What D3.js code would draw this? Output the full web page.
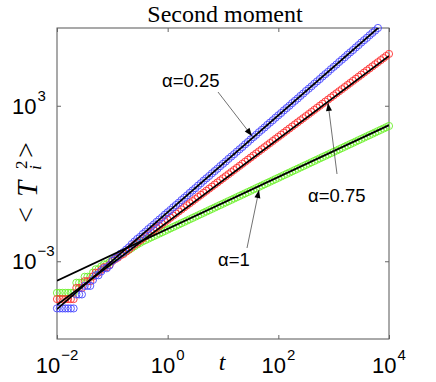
<!DOCTYPE html>
<html><head><meta charset="utf-8">
<script src="https://cdn.jsdelivr.net/npm/d3@7"></script>
<style>
html,body{margin:0;padding:0;background:#fff;}
svg{display:block;}
</style></head>
<body>
<script>
// ---- data (log10 values) ----
const log10T = [-2,-1.95,-1.9,-1.85,-1.8,-1.75,-1.7,-1.65,-1.6,-1.55,-1.5,-1.45,-1.4,-1.35,-1.3,-1.25,-1.2,-1.15,-1.1,-1.05,
-1,-0.95,-0.9,-0.85,-0.8,-0.75,-0.7,-0.65,-0.6,-0.55,-0.5,-0.45,-0.4,-0.35,-0.3,-0.25,-0.2,-0.15,-0.1,-0.05,
0,0.05,0.1,0.15,0.2,0.25,0.3,0.35,0.4,0.45,0.5,0.55,0.6,0.65,0.7,0.75,0.8,0.85,0.9,0.95,
1,1.05,1.1,1.15,1.2,1.25,1.3,1.35,1.4,1.45,1.5,1.55,1.6,1.65,1.7,1.75,1.8,1.85,1.9,1.95,
2,2.05,2.1,2.15,2.2,2.25,2.3,2.35,2.4,2.45,2.5,2.55,2.6,2.65,2.7,2.75,2.8,2.85,2.9,2.95,
3,3.05,3.1,3.15,3.2,3.25,3.3,3.35,3.4,3.45,3.5,3.55,3.6,3.65,3.7,3.75,3.8,3.85,3.9,3.95,4];

const log10Alpha025 = [-4.82,-4.82,-4.82,-4.82,-4.82,-4.82,-4.82,-4.28,-4.28,-4.28,-3.95,-3.95,-3.95,-3.72,-3.54,-3.54,-3.39,-3.27,-3.27,-3.16,
-2.98,-2.90,-2.83,-2.71,-2.65,-2.55,-2.46,-2.34,-2.24,-2.14,-2.06,
-1.95,-1.86,-1.76,-1.67,-1.58,-1.48,-1.39,-1.30,-1.20,-1.11,-1.02,-0.92,-0.83,-0.74,-0.64,-0.55,-0.46,-0.36,-0.27,-0.18,-0.08,
0.01,0.11,0.20,0.29,0.39,0.48,0.57,0.67,0.76,0.85,0.95,1.04,1.13,1.23,1.32,1.41,1.51,1.60,1.70,1.79,1.88,1.98,2.07,2.16,2.26,
2.35,2.44,2.54,2.63,2.72,2.82,2.91,3.00,3.10,3.19,3.28,3.38,3.47,3.57,3.66,3.75,3.85,3.94,4.03,4.13,4.22,4.31,4.41,4.50,4.59,
4.69,4.78,4.87,4.97,5.06,5.15,5.25,5.34,5.44,5.53,5.62,5.72,5.81,5.90,6.00];

const log10Alpha075 = [-4.46,-4.46,-4.46,-4.46,-4.46,-4.46,-4.46,-4.03,-4.03,-4.03,-3.77,-3.77,-3.77,-3.59,-3.44,-3.44,-3.33,-3.23,-3.23,-3.14,
-2.99,-2.92,-2.86,-2.77,-2.72,-2.63,-2.55,-2.45,-2.36,-2.28,-2.20,
-2.12,-2.04,-1.96,-1.88,-1.80,-1.72,-1.64,-1.56,-1.48,-1.40,-1.32,-1.24,-1.16,-1.08,-1.00,-0.92,-0.84,-0.76,-0.68,-0.60,
-0.52,-0.44,-0.36,-0.28,-0.20,-0.12,-0.04,0.04,0.12,0.20,0.28,0.36,0.44,0.52,0.60,0.68,0.76,0.84,0.92,1.00,
1.08,1.16,1.24,1.32,1.40,1.48,1.56,1.64,1.72,1.80,1.88,1.96,2.04,2.12,2.20,2.28,2.36,2.44,2.52,2.60,
2.68,2.76,2.84,2.92,3.00,3.08,3.16,3.24,3.32,3.40,3.48,3.56,3.64,3.72,3.80,3.88,3.96,4.04,4.12,4.20,
4.28,4.36,4.44,4.52,4.60,4.68,4.76,4.84,4.92,5.00];

const log10Alpha1 = [-4.22,-4.22,-4.22,-4.22,-4.22,-4.22,-4.22,-3.83,-3.83,-3.83,-3.60,-3.60,-3.60,-3.44,-3.31,-3.31,-3.20,-3.12,-3.12,-3.04,
-2.91,-2.86,-2.81,-2.72,-2.68,-2.62,-2.56,-2.49,-2.42,-2.35,-2.29,
-2.23,-2.18,-2.13,-2.08,-2.03,-1.98,-1.93,-1.88,-1.83,-1.78,-1.73,-1.68,-1.63,-1.58,-1.53,-1.48,-1.43,-1.38,-1.33,-1.28,
-1.23,-1.18,-1.13,-1.08,-1.03,-0.98,-0.93,-0.88,-0.83,-0.78,-0.73,-0.68,-0.63,-0.58,-0.53,-0.48,-0.43,-0.38,-0.33,-0.28,
-0.23,-0.18,-0.13,-0.08,-0.03,0.02,0.07,0.12,0.17,0.22,0.27,0.32,0.37,0.42,0.47,0.52,0.57,0.62,0.67,0.72,
0.77,0.82,0.87,0.92,0.97,1.02,1.07,1.12,1.17,1.22,1.27,1.32,1.37,1.42,1.47,1.52,1.57,1.62,1.67,1.72,
1.77,1.82,1.87,1.92,1.97,2.02,2.07,2.12,2.17,2.22];

// fitted power laws: log10 value at t = 1e-2 and at t = 1e4
const fitT = [1e-2, 1e4];
const fitLog10Start = [-4.85, -4.68, -3.75];
const fitLog10End = [6.37, 4.92, 2.25];

const seriesNames = ["α=0.25", "α=0.75", "α=1"];
const seriesColors = ["#4848ff", "#ff3030", "#6cf02a"];
const xTicks = [1e-2, 1e0, 1e2, 1e4];
const xTickExp = ["−2", "0", "2", "4"];
const yTicks = [1e-3, 1e3];
const yTickExp = ["−3", "3"];

// ---- layout ----
const W = 436, H = 382;
const L = 57, R = 389, T = 28, B = 339;
const svg = d3.select("body").append("svg").attr("width", W).attr("height", H);

const x = d3.scaleLog().domain([1e-2, 1e4]).range([L, R]);
const y = d3.scaleLog().domain([1e-6, 1e6]).range([B, T]);

svg.append("defs").append("clipPath").attr("id", "clip")
  .append("rect").attr("x", L).attr("y", T).attr("width", R - L).attr("height", B - T);

// axes box
svg.append("rect").attr("x", L).attr("y", T).attr("width", R - L).attr("height", B - T)
  .attr("fill", "none").attr("stroke", "#555").attr("stroke-width", 1);

const tickStyle = g => {
  g.select(".domain").remove();
  g.selectAll(".tick line").attr("stroke", "#666").attr("stroke-width", 1);
  g.selectAll(".tick text").remove();
};
svg.append("g").attr("transform", `translate(0,${B})`)
  .call(d3.axisBottom(x).tickValues(xTicks).tickSize(-4).tickFormat(""))
  .call(tickStyle);
svg.append("g").attr("transform", `translate(0,${T})`)
  .call(d3.axisTop(x).tickValues(xTicks).tickSize(-4).tickFormat(""))
  .call(tickStyle);
svg.append("g").attr("transform", `translate(${L},0)`)
  .call(d3.axisLeft(y).tickValues(yTicks).tickSize(-4).tickFormat(""))
  .call(tickStyle);
svg.append("g").attr("transform", `translate(${R},0)`)
  .call(d3.axisRight(y).tickValues(yTicks).tickSize(-4).tickFormat(""))
  .call(tickStyle);

const sans = "'Liberation Sans', Arial, Helvetica, sans-serif";
const serif = "'Liberation Serif', 'Times New Roman', serif";

// x tick labels
xTicks.forEach((v, i) => {
  const t = svg.append("text").attr("y", 373).attr("font-family", sans)
    .attr("text-anchor", "middle").attr("fill", "#000");
  t.append("tspan").attr("font-size", 22).text("10");
  t.append("tspan").attr("font-size", 15).attr("dy", -13).attr("dx", 1).text(xTickExp[i]);
  t.attr("x", x(v));
});
// y tick labels
yTicks.forEach((v, i) => {
  const t = svg.append("text").attr("x", 12).attr("y", y(v) + 8).attr("font-family", sans).attr("fill", "#000");
  t.append("tspan").attr("font-size", 22).text("10");
  t.append("tspan").attr("font-size", 15).attr("dy", -13).attr("dx", 1).text(yTickExp[i]);
});

// title
svg.append("text").attr("x", 225).attr("y", 22).attr("text-anchor", "middle")
  .attr("font-family", serif).attr("font-size", 24).text("Second moment");
// x label
svg.append("text").attr("x", 222).attr("y", 370).attr("text-anchor", "middle")
  .attr("font-family", serif).attr("font-style", "italic").attr("font-size", 24).text("t");
// y label (rotated)
const yl = svg.append("g").attr("transform", "translate(28,182) rotate(-90)")
  .attr("font-family", serif).attr("fill", "#000");
yl.append("text").attr("x", -41).attr("y", 7).attr("font-size", 28).text("<");
yl.append("text").attr("x", -15).attr("y", 9).attr("font-size", 29).attr("font-style", "italic").text("T");
yl.append("text").attr("x", 12).attr("y", 13).attr("font-size", 17).attr("font-style", "italic").text("i");
yl.append("text").attr("x", 13).attr("y", -1).attr("font-size", 17).text("2");
yl.append("text").attr("x", 24).attr("y", 7).attr("font-size", 28).text(">");

// data markers (not clipped, like the original), drawn green, red, blue
const allSeries = [log10Alpha025, log10Alpha075, log10Alpha1];
[2, 1, 0].forEach(si => {
  const pts = allSeries[si].map((v, i) => [Math.pow(10, log10T[i]), Math.pow(10, v)])
    .filter(p => p[1] <= 1e6);
  svg.append("g").selectAll("circle").data(pts).join("circle")
    .attr("cx", d => x(d[0])).attr("cy", d => y(d[1])).attr("r", 3.6)
    .attr("fill", "none").attr("stroke", seriesColors[si]).attr("stroke-width", 0.9);
});

// fit lines
const line = d3.line().x(d => x(d[0])).y(d => y(d[1]));
const fg = svg.append("g").attr("clip-path", "url(#clip)");
[0, 1, 2].forEach(si => {
  const pts = [[fitT[0], Math.pow(10, fitLog10Start[si])], [fitT[1], Math.pow(10, fitLog10End[si])]];
  fg.append("path").attr("d", line(pts)).attr("fill", "none").attr("stroke", "#000").attr("stroke-width", 1.8);
});

// annotations
const ann = [
  {text: seriesNames[0], tx: 162, ty: 87, from: [218, 92], to: [252, 136]},
  {text: seriesNames[1], tx: 308, ty: 202, from: [337, 174], to: [328, 103]},
  {text: seriesNames[2], tx: 218, ty: 266, from: [247, 248], to: [259, 190]}
];
ann.forEach(a => {
  svg.append("text").attr("x", a.tx).attr("y", a.ty).attr("font-family", sans)
    .attr("font-size", 18.5).attr("fill", "#000").text(a.text);
  svg.append("line").attr("x1", a.from[0]).attr("y1", a.from[1]).attr("x2", a.to[0]).attr("y2", a.to[1])
    .attr("stroke", "#333").attr("stroke-width", 0.7);
  const ang = Math.atan2(a.to[1] - a.from[1], a.to[0] - a.from[0]);
  const len = 8, wid = 3;
  const bx = a.to[0] - len * Math.cos(ang), by = a.to[1] - len * Math.sin(ang);
  const px = -Math.sin(ang) * wid, py = Math.cos(ang) * wid;
  svg.append("path").attr("d", `M${a.to[0]},${a.to[1]}L${bx + px},${by + py}L${bx - px},${by - py}Z`)
    .attr("fill", "#000");
});
</script>
</body></html>
